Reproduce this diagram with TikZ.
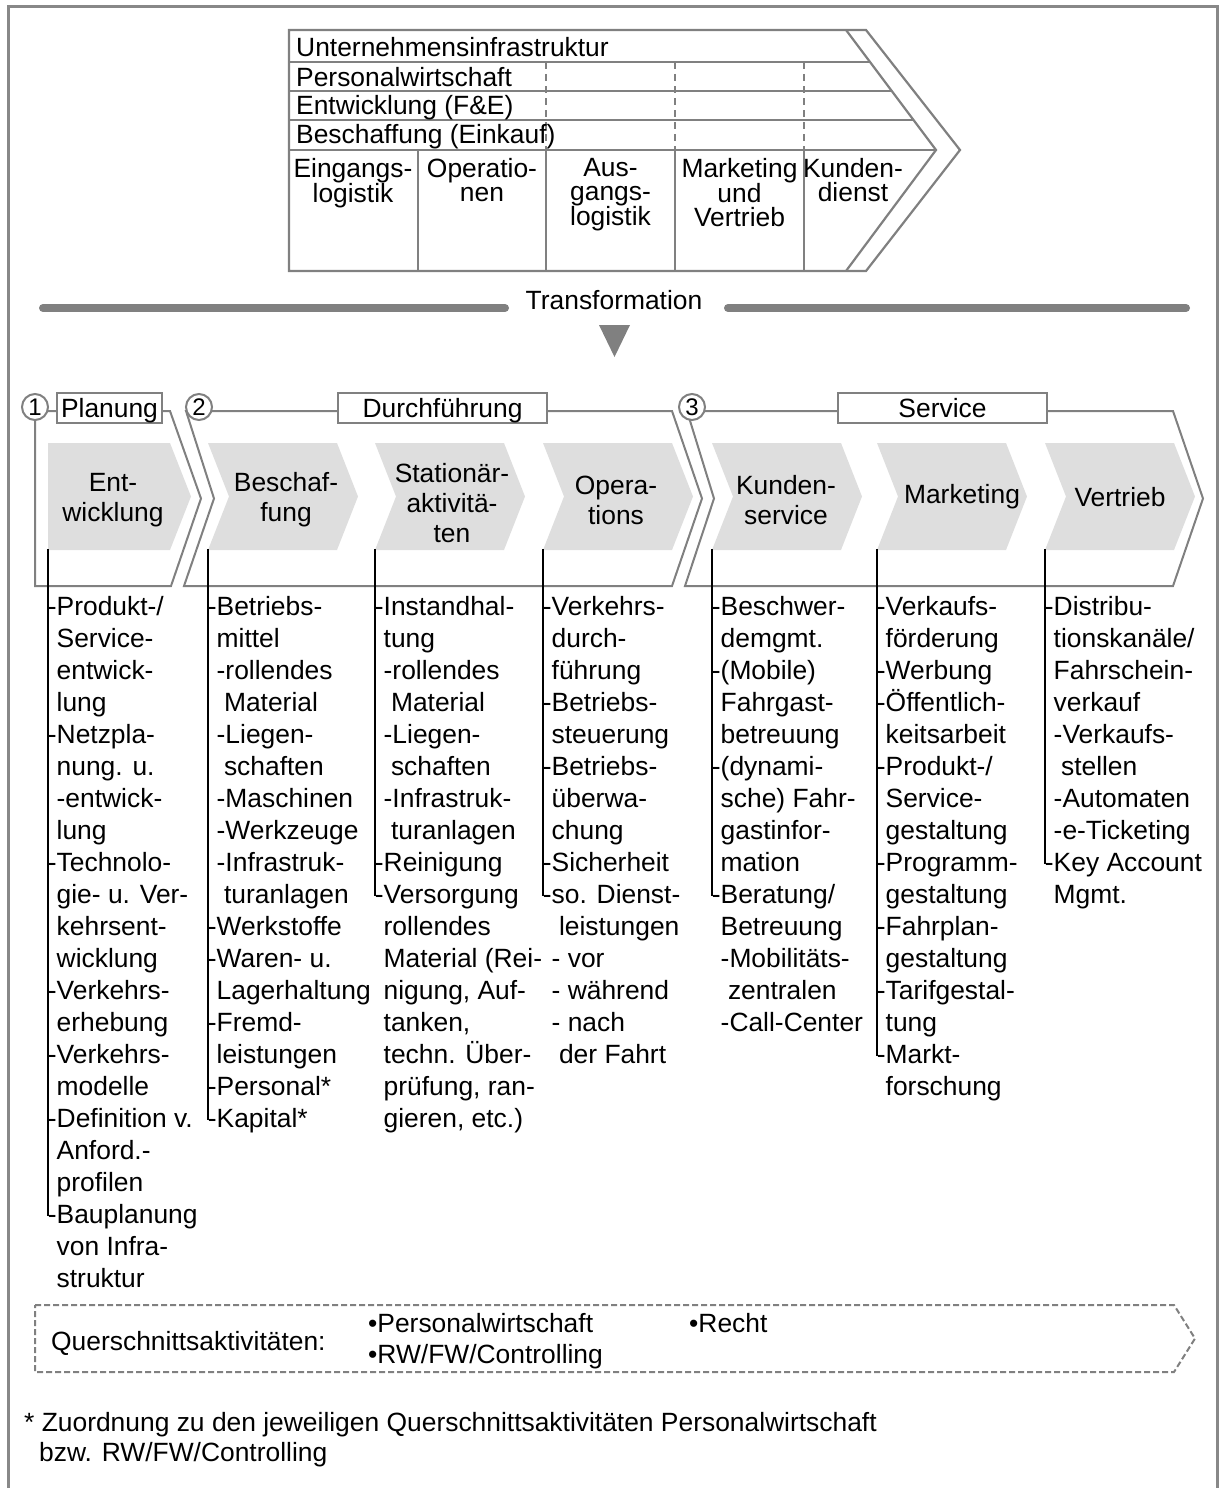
\documentclass[tikz,border=0pt]{standalone}
\usepackage{fontspec}
\setmainfont{Liberation Sans}
\usetikzlibrary{calc}
\definecolor{liniengrau}{RGB}{128,128,128}
\definecolor{rahmengrau}{RGB}{136,136,136}
\definecolor{pfeilgrau}{RGB}{222,222,222}
\newcommand{\einr}{\hspace*{0.278em}}

\begin{document}
\begin{tikzpicture}[
    x=1pt, y=-1pt,
    rahmen/.style={draw=rahmengrau, line width=3pt},
    kette/.style={draw=liniengrau, line width=2.2pt, line join=miter},
    strich/.style={draw=liniengrau, line width=2pt, dash pattern=on 7pt off 5pt},
    balken/.style={draw=liniengrau, line width=8pt, line cap=round},
    umriss/.style={draw=liniengrau, line width=2pt, line join=miter},
    pfeil/.style={fill=pfeilgrau},
    quer/.style={draw=liniengrau, line width=2pt, dash pattern=on 6pt off 3pt},
    ast/.style={draw=black, line width=2pt},
    zeile/.style={anchor=base west, inner sep=0pt, font=\fontsize{26.4}{26}\selectfont},
    primaer/.style={anchor=north, align=center, inner sep=0pt, font=\fontsize{26.4}{24}\selectfont},
    taetig/.style={align=center, inner sep=0pt, font=\fontsize{26.4}{30}\selectfont},
    phase/.style={draw=liniengrau, fill=white, line width=2pt, minimum height=30pt, inner sep=0pt,
        text height=21pt, text depth=3pt, font=\fontsize{26.4}{26}\selectfont},
    nummer/.style={circle, draw=liniengrau, fill=white, line width=2pt, minimum size=26pt, inner sep=0pt, font=\fontsize{24}{24}\selectfont},
    liste/.style={anchor=north west, align=left, inner sep=0pt, font=\fontsize{26.4}{32}\selectfont},
    schrift/.style={inner sep=0pt, font=\fontsize{26.4}{30}\selectfont}
]
\useasboundingbox (0,0) rectangle (1225,1488);

% Rahmen
\draw[rahmen] (8,1488) -- (8,7) -- (1217,7) -- (1217,1488);

% Wertkette oben
\draw[kette] (289,30) -- (866,30) -- (960,150) -- (866,271) -- (289,271) -- cycle;
\draw[kette] (846,30) -- (936,150) -- (846,271);
\draw[kette] (289,62) -- (870,62);
\draw[kette] (289,91) -- (891.5,91);
\draw[kette] (289,120) -- (913.5,120);
\draw[kette] (289,150) -- (936,150);
\draw[kette] (418,150) -- (418,271);
\draw[kette] (546,150) -- (546,271);
\draw[kette] (675,150) -- (675,271);
\draw[kette] (804,150) -- (804,271);
\draw[strich] (546,62) -- (546,150);
\draw[strich] (675,62) -- (675,150);
\draw[strich] (804,62) -- (804,150);

\node[zeile] (infra) at (296,57) {Unternehmensinfrastruktur};
\node[zeile] (personal) at (296,86) {Personalwirtschaft};
\node[zeile] (fue) at (296,114) {Entwicklung (F\&E)};
\node[zeile] (einkauf) at (296,143) {Beschaffung (Einkauf)};

\node[primaer] (eingang) at (353,158) {Eingangs-\\logistik};
\node[primaer] (operation) at (482,158) {Operatio-\\nen};
\node[primaer] (ausgang) at (610.5,158) {Aus-\\gangs-\\logistik};
\node[primaer] (mavt) at (739.5,158) {Marketing\\und\\Vertrieb};
\node[primaer] (kdienst) at (853,158) {Kunden-\\dienst};

% Transformation
\node[schrift] (trans) at (614,300) {Transformation};
\draw[balken] (43,308) -- (505,308);
\draw[balken] (728,308) -- (1186,308);
\fill[liniengrau] (599,325) -- (630,325) -- (614.5,357) -- cycle;

% Phasen
\draw[umriss] (35,411) -- (170,411) -- (201,498.5) -- (171,586) -- (35,586) -- cycle;
\draw[umriss] (186,411) -- (672,411) -- (702,498.5) -- (672,586) -- (184,586) -- (214,498.5) -- cycle;
\draw[umriss] (687,411) -- (1173,411) -- (1203,498.5) -- (1173,586) -- (685,586) -- (714,498.5) -- cycle;

% Aktivitaeten
\fill[pfeil] (48,443) -- (170,443) -- (191,496.5) -- (170,550) -- (48,550) -- cycle;
\fill[pfeil] (208,443) -- (337,443) -- (358,496.5) -- (337,550) -- (208,550) -- (229,496.5) -- cycle;
\fill[pfeil] (375,443) -- (504,443) -- (525,496.5) -- (504,550) -- (375,550) -- (396,496.5) -- cycle;
\fill[pfeil] (543,443) -- (672,443) -- (693,496.5) -- (672,550) -- (543,550) -- (564,496.5) -- cycle;
\fill[pfeil] (712,443) -- (841,443) -- (862,496.5) -- (841,550) -- (712,550) -- (733,496.5) -- cycle;
\fill[pfeil] (877,443) -- (1006,443) -- (1027,496.5) -- (1006,550) -- (877,550) -- (898,496.5) -- cycle;
\fill[pfeil] (1045,443) -- (1174,443) -- (1195,496.5) -- (1174,550) -- (1045,550) -- (1066,496.5) -- cycle;

\node[taetig] (entw) at (113,500) {Ent-\\wicklung};
\node[taetig] (besch) at (286,500) {Beschaf-\\fung};
\node[taetig] (stat) at (452,503) {Stationär-\\aktivitä-\\ten};
\node[taetig] (oper) at (616,500) {Opera-\\tions};
\node[taetig] (kserv) at (786,500) {Kunden-\\service};
\node[taetig] (mark) at (962,497) {Marketing};
\node[taetig] (vertr) at (1120,497) {Vertrieb};

\node[nummer] (n1) at (35,407) {1};
\node[nummer] (n2) at (199,407) {2};
\node[nummer] (n3) at (692,407) {3};
\node[phase, minimum width=105pt] (planung) at (109.5,408) {Planung};
\node[phase, minimum width=209pt] (durchf) at (442.5,408) {Durchführung};
\node[phase, minimum width=209pt] (service) at (942.5,408) {Service};

% Listen
\draw[ast] (48,549) -- (48,1216);
\node[liste] (l1) at (56.5,596) {\llap{-}Produkt-/\\Service-\\entwick-\\lung\\\llap{-}Netzpla-\\nung. u.\\-entwick-\\lung\\\llap{-}Technolo-\\gie- u. Ver-\\kehrsent-\\wicklung\\\llap{-}Verkehrs-\\erhebung\\\llap{-}Verkehrs-\\modelle\\\llap{-}Definition v.\\Anford.-\\profilen\\\llap{-}Bauplanung\\von Infra-\\struktur};

\draw[ast] (208,549) -- (208,1120);
\node[liste] (l2) at (216.5,596) {\llap{-}Betriebs-\\mittel\\-rollendes\\\einr Material\\-Liegen-\\\einr schaften\\-Maschinen\\-Werkzeuge\\-Infrastruk-\\\einr turanlagen\\\llap{-}Werkstoffe\\\llap{-}Waren- u.\\Lagerhaltung\\\llap{-}Fremd-\\leistungen\\\llap{-}Personal*\\\llap{-}Kapital*};

\draw[ast] (375,549) -- (375,896);
\node[liste] (l3) at (383.5,596) {\llap{-}Instandhal-\\tung\\-rollendes\\\einr Material\\-Liegen-\\\einr schaften\\-Infrastruk-\\\einr turanlagen\\\llap{-}Reinigung\\\llap{-}Versorgung\\rollendes\\Material (Rei-\\nigung, Auf-\\tanken,\\techn. Über-\\prüfung, ran-\\gieren, etc.)};

\draw[ast] (543,549) -- (543,896);
\node[liste] (l4) at (551.5,596) {\llap{-}Verkehrs-\\durch-\\führung\\\llap{-}Betriebs-\\steuerung\\\llap{-}Betriebs-\\überwa-\\chung\\\llap{-}Sicherheit\\\llap{-}so. Dienst-\\\einr leistungen\\- vor\\- während\\- nach\\\einr der Fahrt};

\draw[ast] (712,549) -- (712,896);
\node[liste] (l5) at (720.5,596) {\llap{-}Beschwer-\\demgmt.\\\llap{-}(Mobile)\\Fahrgast-\\betreuung\\\llap{-}(dynami-\\sche) Fahr-\\gastinfor-\\mation\\\llap{-}Beratung/\\Betreuung\\-Mobilitäts-\\\einr zentralen\\-Call-Center};

\draw[ast] (877,549) -- (877,1056);
\node[liste] (l6) at (885.5,596) {\llap{-}Verkaufs-\\förderung\\\llap{-}Werbung\\\llap{-}Öffentlich-\\keitsarbeit\\\llap{-}Produkt-/\\Service-\\gestaltung\\\llap{-}Programm-\\gestaltung\\\llap{-}Fahrplan-\\gestaltung\\\llap{-}Tarifgestal-\\tung\\\llap{-}Markt-\\forschung};

\draw[ast] (1045,549) -- (1045,864);
\node[liste] (l7) at (1053.5,596) {\llap{-}Distribu-\\tionskanäle/\\Fahrschein-\\verkauf\\-Verkaufs-\\\einr stellen\\-Automaten\\-e-Ticketing\\\llap{-}Key Account\\Mgmt.};

% Querschnitt
\draw[quer] (35,1305) -- (1174,1305) -- (1195,1338.5) -- (1174,1372) -- (35,1372) -- cycle;
\node[schrift, anchor=base west] (quer) at (51,1350) {Querschnittsaktivitäten:};
\node[schrift, anchor=base west] (qpers) at (368,1332) {\textbullet Personalwirtschaft};
\node[schrift, anchor=base west] (qrw) at (368,1363) {\textbullet RW/FW/Controlling};
\node[schrift, anchor=base west] (qrecht) at (689,1332) {\textbullet Recht};

% Fussnote
\node[schrift, anchor=base west] (fuss1) at (24,1431) {* Zuordnung zu den jeweiligen Querschnittsaktivitäten Personalwirtschaft};
\node[schrift, anchor=base west] (fuss2) at (39,1461) {bzw. RW/FW/Controlling};

\end{tikzpicture}
\end{document}
